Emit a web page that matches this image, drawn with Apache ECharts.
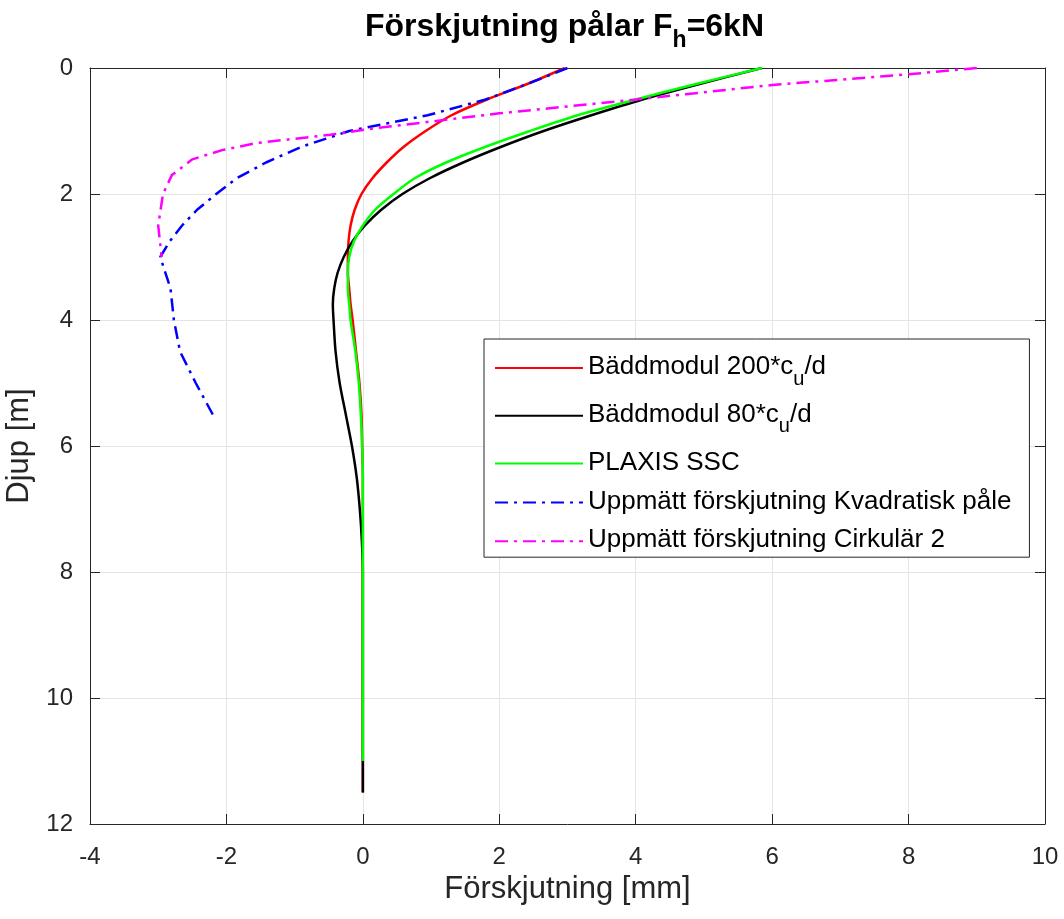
<!DOCTYPE html>
<html>
<head>
<meta charset="utf-8">
<title>Förskjutning pålar</title>
<script src="https://cdn.jsdelivr.net/npm/echarts@6/dist/echarts.min.js"></script>
<style>
  html, body { margin: 0; padding: 0; background: #fff; }
  #chart { width: 1064px; height: 919px; }
</style>
</head>
<body>
<div id="chart"></div>
<script>
// depth [m] for the model curves (red, black, green)
const depthModel = [0, 0.25, 0.5, 0.75, 1, 1.25, 1.5, 1.75, 2, 2.25, 2.5, 2.75, 3, 3.25, 3.5, 3.75, 4,
  4.5, 5, 5.5, 6, 6.5, 7, 7.5, 8, 9, 10, 11, 11.5];
// Bäddmodul 200*cu/d
const redX = [2.96, 2.42, 1.82, 1.3, 0.92, 0.6, 0.35, 0.14, -0.02, -0.12, -0.18, -0.21, -0.22, -0.22, -0.2, -0.18, -0.15,
  -0.1, -0.05, -0.02, -0.01, 0, 0, 0, 0, 0, 0, 0, 0];
// Bäddmodul 80*cu/d
const blackX = [5.85, 4.95, 4.1, 3.35, 2.65, 2.03, 1.47, 0.98, 0.58, 0.27, 0.03, -0.15, -0.28, -0.37, -0.42, -0.44, -0.43,
  -0.4, -0.34, -0.25, -0.16, -0.09, -0.045, -0.015, 0, 0, 0, 0, 0];
// PLAXIS SSC (ends at 11 m)
const greenX = [5.85, 4.9, 4.0, 3.15, 2.45, 1.8, 1.22, 0.76, 0.45, 0.18, 0.0, -0.13, -0.2, -0.22, -0.22, -0.2, -0.18,
  -0.11, -0.06, -0.03, -0.01, 0, 0, 0, 0, 0, 0, 0, null];

// measured, Kvadratisk påle
const depthBlue = [0, 0.25, 0.5, 0.75, 1, 1.25, 1.5, 1.75, 2, 2.25, 2.5, 2.75, 3, 3.5, 4, 4.5, 5, 5.5];
const blueX = [3.0, 2.42, 1.8, 0.95, -0.2, -0.9, -1.42, -1.85, -2.15, -2.43, -2.65, -2.83, -2.97, -2.82, -2.77, -2.68, -2.45, -2.2];

// measured, Cirkulär 2
const depthMagenta = [0, 0.1, 0.27, 0.5, 0.72, 0.85, 0.96, 1.06, 1.19, 1.3, 1.45, 1.7, 2.0, 2.5, 3.0];
const magentaX = [9.0, 8.0, 6.0, 4.0, 2.0, 1.0, 0.15, -0.48, -1.55, -2.05, -2.5, -2.8, -2.93, -3.0, -2.95];

const xTicks = { min: -4, max: 10, step: 2 };
const yTicks = { min: 0, max: 12, step: 2 };

const FONT = 'Liberation Sans, Arial, Helvetica, sans-serif';
const AX = '#262626';

function pairs(xs, ys) {
  const out = [];
  xs.forEach((x, i) => { if (x !== null) out.push([x, ys[i]]); });
  return out;
}

const dashDot = [13, 6, 3, 6];

const seriesList = [
  { name: 'Bäddmodul 200*c_u/d', color: '#ff0000', data: pairs(redX, depthModel), type: 'solid', smooth: true },
  { name: 'Bäddmodul 80*c_u/d', color: '#000000', data: pairs(blackX, depthModel), type: 'solid', smooth: true },
  { name: 'PLAXIS SSC', color: '#00ff00', data: pairs(greenX, depthModel), type: 'solid', smooth: true },
  { name: 'Uppmätt förskjutning Kvadratisk påle', color: '#0000ff', data: pairs(blueX, depthBlue), type: dashDot, smooth: false },
  { name: 'Uppmätt förskjutning Cirkulär 2', color: '#ff00ff', data: pairs(magentaX, depthMagenta), type: dashDot, smooth: false }
];

const legendText = {
  'Bäddmodul 200*c_u/d': '{t|Bäddmodul 200*c}{s|u}{t|/d}',
  'Bäddmodul 80*c_u/d': '{t|Bäddmodul 80*c}{s|u}{t|/d}',
  'PLAXIS SSC': '{t|PLAXIS SSC}',
  'Uppmätt förskjutning Kvadratisk påle': '{t|Uppmätt förskjutning Kvadratisk påle}',
  'Uppmätt förskjutning Cirkulär 2': '{t|Uppmätt förskjutning Cirkulär 2}'
};

const chart = echarts.init(document.getElementById('chart'));

function boxAxis(pos, range, extra) {
  return Object.assign({
    type: 'value',
    position: pos,
    min: range.min,
    max: range.max,
    interval: range.step,
    axisLine: { show: true, onZero: false, lineStyle: { color: AX, width: 1 } },
    axisTick: { show: true, inside: true, length: 10, lineStyle: { color: AX, width: 1 } },
    axisLabel: { show: false },
    splitLine: { show: false }
  }, extra);
}

const option = {
  backgroundColor: '#fff',
  animation: false,
  textStyle: { fontFamily: FONT },
  title: {
    text: '{a|Förskjutning pålar F}{b|h}{a|=6kN}',
    left: 360,
    top: 6,
    textStyle: {
      rich: {
        a: { fontFamily: FONT, fontSize: 32, fontWeight: 'bold', color: '#000', verticalAlign: 'top', lineHeight: 34 },
        b: { fontFamily: FONT, fontSize: 23, fontWeight: 'bold', color: '#000', verticalAlign: 'top', padding: [18, 0, 0, 0], lineHeight: 24 }
      }
    }
  },
  grid: { left: 90, right: 19, top: 68, bottom: 95, containLabel: false, outerBoundsMode: 'none' },
  xAxis: [
    boxAxis('bottom', xTicks, {
      axisLabel: { show: true, fontSize: 24, color: AX, margin: 21, fontFamily: FONT },
      splitLine: { show: true, lineStyle: { color: '#e4e4e4', width: 1 } },
      name: 'Förskjutning [mm]',
      nameLocation: 'middle',
      nameGap: 49,
      nameTextStyle: { fontSize: 31, color: AX, fontFamily: FONT }
    }),
    boxAxis('top', xTicks, {})
  ],
  yAxis: [
    boxAxis('left', yTicks, {
      inverse: true,
      axisLabel: { show: true, fontSize: 24, color: AX, margin: 17, fontFamily: FONT },
      splitLine: { show: true, lineStyle: { color: '#e4e4e4', width: 1 } },
      name: 'Djup [m]',
      nameLocation: 'middle',
      nameRotate: 90,
      nameGap: 49,
      nameTextStyle: { fontSize: 31, color: AX, fontFamily: FONT }
    }),
    boxAxis('right', yTicks, { inverse: true })
  ],
  legend: {
    orient: 'vertical',
    left: 484,
    top: 339,
    backgroundColor: '#fff',
    borderColor: AX,
    borderWidth: 1,
    padding: [15, 18, 4, 10],
    itemGap: 12.8,
    itemWidth: 88,
    itemHeight: 14,
    itemStyle: { opacity: 0 },
    data: seriesList.map(s => s.name),
    formatter: name => legendText[name],
    textStyle: {
      color: '#000',
      fontFamily: FONT,
      rich: {
        t: { fontFamily: FONT, fontSize: 26, color: '#000', lineHeight: 28, verticalAlign: 'top' },
        s: { fontFamily: FONT, fontSize: 20, color: '#000', verticalAlign: 'top', padding: [15, 0, 0, 0], lineHeight: 23 }
      }
    }
  },
  series: seriesList.map(s => ({
    name: s.name,
    type: 'line',
    xAxisIndex: 0,
    yAxisIndex: 0,
    data: s.data,
    smooth: s.smooth ? 0.3 : false,
    symbol: 'none',
    showSymbol: false,
    clip: true,
    color: s.color,
    lineStyle: { color: s.color, width: 2.5, type: s.type },
    emphasis: { disabled: true }
  }))
};

chart.setOption(option);
</script>
</body>
</html>
